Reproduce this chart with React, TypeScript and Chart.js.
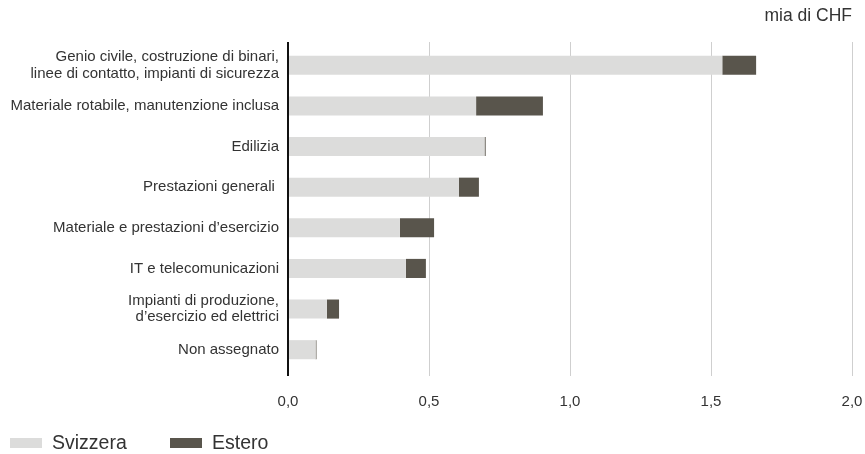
import React, { useEffect, useRef } from "react";
import { Chart, registerables } from "chart.js";

Chart.register(...registerables);

const categories: (string | string[])[] = [
  ["Genio civile, costruzione di binari,", "linee di contatto, impianti di sicurezza"],
  "Materiale rotabile, manutenzione inclusa",
  "Edilizia",
  "Prestazioni generali ",
  "Materiale e prestazioni d\u2019esercizio",
  "IT e telecomunicazioni",
  ["Impianti di produzione,", "d\u2019esercizio ed elettrici"],
  "Non assegnato",
];

const svizzera = [1.54, 0.667, 0.697, 0.606, 0.397, 0.418, 0.138, 0.098];
const estero = [0.12, 0.237, 0.004, 0.071, 0.121, 0.071, 0.043, 0.003];

const xTicks = [0, 0.5, 1.0, 1.5, 2.0];
const unitLabel = "mia di CHF";

const FONT = "'Liberation Sans', Arial, sans-serif";
const TEXT = "#333333";

const decorPlugin = {
  id: "decor",
  beforeDatasetsDraw(chart: any) {
    const { ctx, chartArea, scales } = chart;
    const x = scales.x;
    ctx.save();
    ctx.strokeStyle = "#cfcfcf";
    ctx.lineWidth = 1;
    xTicks.forEach((t) => {
      if (t === 0) return;
      const px = Math.round(x.getPixelForValue(t)) + 0.5;
      ctx.beginPath();
      ctx.moveTo(px, chartArea.top - 3);
      ctx.lineTo(px, chartArea.bottom + 6);
      ctx.stroke();
    });
    ctx.restore();
  },
  afterDatasetsDraw(chart: any) {
    const { ctx, chartArea, scales } = chart;
    const x = scales.x;
    ctx.save();
    ctx.strokeStyle = "#111111";
    ctx.lineWidth = 2;
    const px = x.getPixelForValue(0);
    ctx.beginPath();
    ctx.moveTo(px, chartArea.top - 3);
    ctx.lineTo(px, chartArea.bottom + 6);
    ctx.stroke();
    ctx.fillStyle = TEXT;
    ctx.font = `17.5px ${FONT}`;
    ctx.textAlign = "right";
    ctx.textBaseline = "middle";
    ctx.fillText(unitLabel, chartArea.right, 16);

    // legend
    const ly = 443;
    let lx = 10;
    ctx.font = `19.5px ${FONT}`;
    ctx.textAlign = "left";
    chart.data.datasets.forEach((ds: any) => {
      ctx.fillStyle = ds.backgroundColor;
      ctx.fillRect(lx, ly - 5, 32, 10);
      ctx.fillStyle = TEXT;
      ctx.fillText(ds.label, lx + 42, ly + 1);
      lx = 170;
    });
    ctx.restore();
  },
};

export default function App() {
  const ref = useRef<HTMLCanvasElement | null>(null);

  useEffect(() => {
    if (!ref.current) return;
    const chart = new Chart(ref.current, {
      type: "bar",
      data: {
        labels: categories,
        datasets: [
          {
            label: "Svizzera",
            data: svizzera,
            backgroundColor: "#dcdcdb",
            barPercentage: 0.47,
            categoryPercentage: 1,
          },
          {
            label: "Estero",
            data: estero,
            backgroundColor: "#59554c",
            barPercentage: 0.47,
            categoryPercentage: 1,
          },
        ],
      },
      options: {
        indexAxis: "y",
        animation: false,
        responsive: false,
        maintainAspectRatio: false,
        layout: { padding: { top: 45, right: 0, left: 0, bottom: 44 } },
        scales: {
          x: {
            stacked: true,
            min: 0,
            max: 2,
            afterBuildTicks: (scale: any) => {
              scale.ticks = xTicks.map((v) => ({ value: v }));
            },
            afterFit: (scale: any) => {
              scale.height = 40;
              scale.paddingRight = 13;
              scale.paddingLeft = 0;
            },
            grid: { display: false, drawTicks: false },
            border: { display: false },
            ticks: {
              padding: 23,
              color: TEXT,
              maxRotation: 0,
              font: { family: FONT, size: 15 },
              callback: (v: any) => Number(v).toFixed(1).replace(".", ","),
            },
          },
          y: {
            stacked: true,
            grid: { display: false, drawTicks: false },
            border: { display: false },
            afterFit: (scale: any) => {
              scale.width = 288;
            },
            ticks: {
              padding: 9,
              color: TEXT,
              font: { family: FONT, size: 15, lineHeight: 1.1 },
            },
          },
        },
        plugins: {
          legend: { display: false },
          tooltip: { enabled: false },
          title: { display: false },
        },
      },
      plugins: [decorPlugin],
    });
    return () => chart.destroy();
  }, []);

  return (
    <div style={{ position: "absolute", left: 0, top: 0, width: 865, height: 454 }}>
      <canvas ref={ref} width={865} height={454} style={{ width: 865, height: 454 }} />
    </div>
  );
}
